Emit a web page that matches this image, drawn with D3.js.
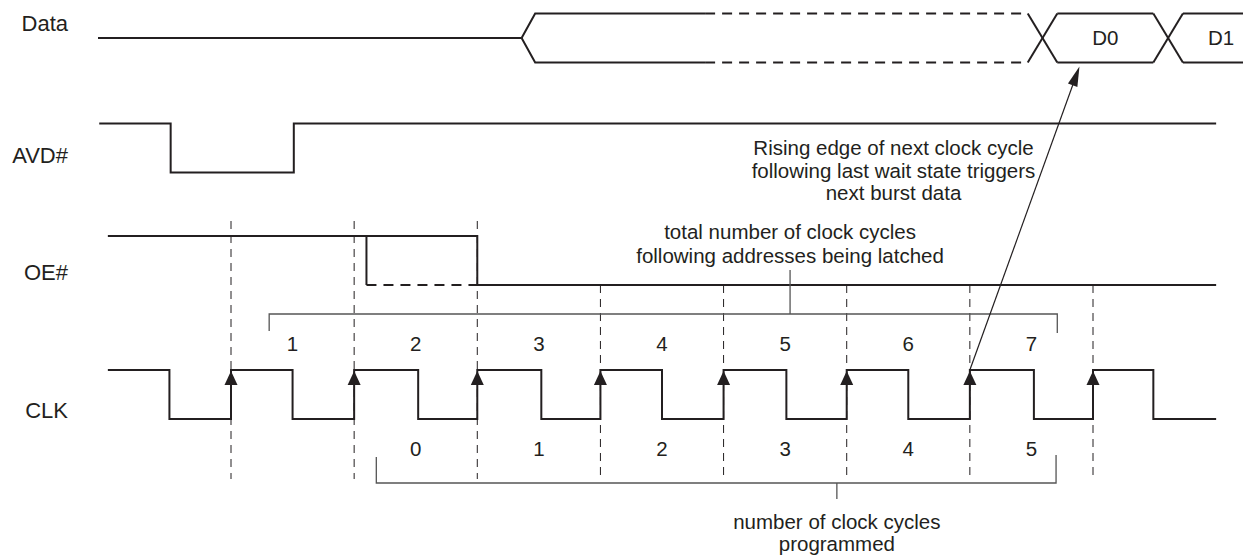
<!DOCTYPE html>
<html>
<head>
<meta charset="utf-8">
<script src="https://cdn.jsdelivr.net/npm/d3@7"></script>
<style>
  body { margin: 0; background: #fff; }
  text { font-family: "Liberation Sans", Arial, sans-serif; fill: #231f20; }
</style>
</head>
<body>
<div id="chart"></div>
<script>
// signal names, top to bottom
var signals = ["Data", "AVD#", "OE#", "CLK"];

// waveforms, in clock periods (rising edge n at t = n)
var clkStart = 0, clkEnd = 9.0;
var clkToggles = [0.5, 1, 1.5, 2, 2.52, 3, 3.52, 4, 4.5, 5, 5.51, 6, 6.5, 7, 7.52, 8, 8.49];
var avdStart = -0.07, avdEnd = 9.0;
var avdToggles = [0.51, 1.51];
var oeStart = 0, oeEnd = 9.0;
var oeToggles = [3.0];
var oeEarlyFall = 2.1;          // dashed alternative
var risingEdges = [1, 2, 3, 4, 5, 6, 7, 8];

// data bus
var dataStart = -0.08, dataSplit = 3.36, dataOpen = 3.47, dataSolidEnd = 4.85;
var busCross = [7.59, 8.61];
var busValues = ["D0", "D1"];
var busLabelAt = [8.1, 9.04];
var busEnd = 9.22;

// cycle counts
var totalCycles = ["1", "2", "3", "4", "5", "6", "7"];
var totalFirstEdge = 1;
var programmedCycles = ["0", "1", "2", "3", "4", "5"];
var programmedFirstEdge = 2;

// brackets [left, right, centre tick]
var totalBracket = [1.31, 7.71, 5.54];
var programmedBracket = [2.18, 7.70, 5.92];

var totalNote = ["total number of clock cycles", "following addresses being latched"];
var programmedNote = ["number of clock cycles", "programmed"];
var edgeNote = ["Rising edge of next clock cycle", "following last wait state triggers", "next burst data"];
var edgeNoteAt = 6.38;
var triggerEdge = 7, triggerTarget = 7.89;

var W = 1243, H = 556;
var ink = "#231f20";

var svg = d3.select("#chart").append("svg")
	.attr("width", W)
	.attr("height", H);

var x = d3.scaleLinear().domain([1, 8]).range([231, 1093]);
var row = d3.scaleOrdinal().domain(signals).range([38, 148, 260.5, 394.5]);
var half = 24.5;

function y(sig, level) { return row(sig) + (level ? -half : half); }

// build step points from toggles
function steps(start, end, toggles, level) {
	var pts = [[start, level]];
	toggles.forEach(function(t) {
		pts.push([t, level]);
		level = 1 - level;
		pts.push([t, level]);
	});
	pts.push([end, level]);
	return pts;
}

function wave(sig) {
	return d3.line()
		.x(function(d) { return x(d[0]); })
		.y(function(d) { return y(sig, d[1]); });
}

var fs = 20.5;

// labels
var labelDy = { "Data": -15, "AVD#": 7, "OE#": 11.5, "CLK": 15.5 };
svg.selectAll("text.label")
	.data(signals)
	.enter().append("text")
	.attr("class", "label")
	.attr("x", 68)
	.attr("y", function(d) { return row(d) + labelDy[d]; })
	.attr("dy", "0.35em")
	.attr("text-anchor", "end")
	.style("font-size", "22px")
	.text(function(d) { return d; });

// dashed edge guides
svg.selectAll("line.guide")
	.data(risingEdges)
	.enter().append("line")
	.attr("class", "guide")
	.attr("x1", function(d) { return x(d); })
	.attr("x2", function(d) { return x(d); })
	.attr("y1", function(d) { return d <= oeToggles[0] ? y("OE#", 1) - 15 : y("OE#", 0); })
	.attr("y2", y("CLK", 0) + 60)
	.attr("stroke", ink)
	.attr("stroke-width", 1)
	.attr("stroke-dasharray", "8,6");

// AVD#, OE#, CLK
svg.append("path").datum(steps(avdStart, avdEnd, avdToggles, 1))
	.attr("d", wave("AVD#")).attr("fill", "none").attr("stroke", ink).attr("stroke-width", 2);
svg.append("path").datum(steps(oeStart, oeEnd, oeToggles, 1))
	.attr("d", wave("OE#")).attr("fill", "none").attr("stroke", ink).attr("stroke-width", 2);
svg.append("path").datum([[oeEarlyFall, 1], [oeEarlyFall, 0]])
	.attr("d", wave("OE#")).attr("fill", "none").attr("stroke", ink).attr("stroke-width", 2);
svg.append("path").datum([[oeEarlyFall, 0], [oeToggles[0], 0]])
	.attr("d", wave("OE#")).attr("fill", "none").attr("stroke", ink).attr("stroke-width", 2)
	.attr("stroke-dasharray", "10,7");
svg.append("path").datum(steps(clkStart, clkEnd, clkToggles, 1))
	.attr("d", wave("CLK")).attr("fill", "none").attr("stroke", ink).attr("stroke-width", 2);

// rising edge arrows
svg.selectAll("path.edge")
	.data(risingEdges)
	.enter().append("path")
	.attr("class", "edge")
	.attr("d", function(d) {
		var px = x(d), py = y("CLK", 1) + 1;
		return "M" + px + "," + py + "L" + (px - 6.5) + "," + (py + 14) + "L" + (px + 6.5) + "," + (py + 14) + "Z";
	})
	.attr("fill", ink);

// data bus
var bus = wave("Data");
svg.append("path").datum([[dataStart, 0.5], [dataSplit, 0.5]])
	.attr("d", d3.line().x(function(d) { return x(d[0]); }).y(row("Data")))
	.attr("fill", "none").attr("stroke", ink).attr("stroke-width", 2);
[1, 0].forEach(function(lv) {
	svg.append("path").datum([[dataSplit, null], [dataOpen, lv], [dataSolidEnd, lv]])
		.attr("d", d3.line().x(function(d) { return x(d[0]); })
			.y(function(d) { return d[1] === null ? row("Data") : y("Data", d[1]); }))
		.attr("fill", "none").attr("stroke", ink).attr("stroke-width", 2);
	svg.append("path").datum([[dataSolidEnd, lv], [busCross[0] - 0.12, lv]])
		.attr("d", bus).attr("fill", "none").attr("stroke", ink).attr("stroke-width", 2)
		.attr("stroke-dasharray", "10,7");
});
// crossings and valid windows
var openW = 0.12;
busCross.forEach(function(c, i) {
	svg.append("path").datum([[c - openW, 1], [c + openW, 0]])
		.attr("d", bus).attr("fill", "none").attr("stroke", ink).attr("stroke-width", 2);
	svg.append("path").datum([[c - openW, 0], [c + openW, 1]])
		.attr("d", bus).attr("fill", "none").attr("stroke", ink).attr("stroke-width", 2);
	var endT = i + 1 < busCross.length ? busCross[i + 1] - openW : busEnd;
	[1, 0].forEach(function(lv) {
		svg.append("path").datum([[c + openW, lv], [endT, lv]])
			.attr("d", bus).attr("fill", "none").attr("stroke", ink).attr("stroke-width", 2);
	});
	svg.append("text")
		.attr("x", x(busLabelAt[i]))
		.attr("y", row("Data"))
		.attr("dy", "0.35em")
		.attr("text-anchor", "middle")
		.style("font-size", fs + "px")
		.text(busValues[i]);
});

// cycle numbers
svg.selectAll("text.total")
	.data(totalCycles)
	.enter().append("text")
	.attr("class", "total")
	.attr("x", function(d, i) { return x(totalFirstEdge + i + 0.5); })
	.attr("y", y("CLK", 1) - 26)
	.attr("dy", "0.35em")
	.attr("text-anchor", "middle")
	.style("font-size", fs + "px")
	.text(function(d) { return d; });

svg.selectAll("text.prog")
	.data(programmedCycles)
	.enter().append("text")
	.attr("class", "prog")
	.attr("x", function(d, i) { return x(programmedFirstEdge + i + 0.5); })
	.attr("y", y("CLK", 0) + 30)
	.attr("dy", "0.35em")
	.attr("text-anchor", "middle")
	.style("font-size", fs + "px")
	.text(function(d) { return d; });

// brackets
function bracket(b, yb, dir, tickIn, tickOut) {
	var g = svg.append("g").attr("stroke", "#555").attr("stroke-width", 1.3).attr("fill", "none");
	g.append("path").attr("d",
		"M" + x(b[0]) + "," + (yb + dir * tickIn) + "V" + yb + "H" + x(b[1]) + "V" + (yb + dir * (tickIn + 2)));
	g.append("line")
		.attr("x1", x(b[2])).attr("x2", x(b[2]))
		.attr("y1", yb).attr("y2", yb - dir * tickOut);
}
bracket(totalBracket, 314, 1, 17, 44);
bracket(programmedBracket, 483, -1, 26, 16);

function note(lines, cx, cy, lh) {
	svg.append("text")
		.attr("text-anchor", "middle")
		.style("font-size", fs + "px")
		.selectAll("tspan")
		.data(lines)
		.enter().append("tspan")
		.attr("x", cx)
		.attr("y", function(d, i) { return cy + i * lh; })
		.attr("dy", "0.35em")
		.text(function(d) { return d; });
}
note(totalNote, x(totalBracket[2]), 232, 24);
note(programmedNote, x(programmedBracket[2]), 522, 22);
note(edgeNote, x(edgeNoteAt), 148, 22.5);

// trigger arrow
var ax0 = x(triggerEdge), ay0 = y("CLK", 1),
	ax1 = x(triggerTarget), ay1 = y("Data", 0) + 4;
var ang = Math.atan2(ay1 - ay0, ax1 - ax0);
svg.append("line")
	.attr("x1", ax0).attr("y1", ay0)
	.attr("x2", ax1 - 12 * Math.cos(ang)).attr("y2", ay1 - 12 * Math.sin(ang))
	.attr("stroke", ink).attr("stroke-width", 1.2);
var hl = 20, hw = 5;
svg.append("path")
	.attr("d", "M" + ax1 + "," + ay1 +
		"L" + (ax1 - hl * Math.cos(ang) + hw * Math.sin(ang)) + "," + (ay1 - hl * Math.sin(ang) - hw * Math.cos(ang)) +
		"L" + (ax1 - hl * Math.cos(ang) - hw * Math.sin(ang)) + "," + (ay1 - hl * Math.sin(ang) + hw * Math.cos(ang)) + "Z")
	.attr("fill", ink);
</script>
</body>
</html>
